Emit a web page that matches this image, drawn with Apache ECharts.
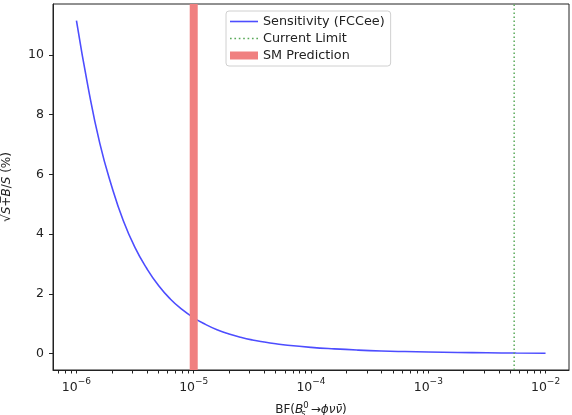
<!DOCTYPE html>
<html>
<head>
<meta charset="utf-8">
<script src="https://cdn.jsdelivr.net/npm/echarts@6/dist/echarts.min.js"></script>
<style>html,body{margin:0;padding:0;background:#fff}#c{width:572px;height:415px}</style>
</head>
<body>
<div id="c"></div>
<script>
// Branching fraction values (x) and sensitivity sqrt(S+B)/S in % (y)
const bf = [1e-6, 1.26e-6, 1.58e-6, 2.0e-6, 2.51e-6, 3.16e-6, 3.98e-6, 5.01e-6, 6.31e-6, 7.94e-6,
            1e-5, 1.26e-5, 1.58e-5, 2.0e-5, 2.51e-5, 3.16e-5, 3.98e-5, 5.01e-5, 6.31e-5,
            1e-4, 1.58e-4, 2.51e-4, 3.98e-4, 6.31e-4, 1e-3, 1.78e-3, 3.16e-3, 5.62e-3, 1e-2];
const sensitivity = [11.15, 8.9, 7.05, 5.6, 4.45, 3.55, 2.85, 2.28, 1.83, 1.48,
                     1.2, 0.98, 0.8, 0.66, 0.55, 0.46, 0.39, 0.33, 0.28,
                     0.21, 0.16, 0.12, 0.09, 0.07, 0.055, 0.04, 0.03, 0.02, 0.015];
const currentLimit = 5.4e-3;
const smPrediction = 1e-5;
const yRange = [-0.547, 11.707];
const xMajorTicks = [1e-6, 1e-5, 1e-4, 1e-3, 1e-2];
const xMinorTicks = [7e-7, 8e-7, 9e-7,
  2e-6,3e-6,4e-6,5e-6,6e-6,7e-6,8e-6,9e-6,
  2e-5,3e-5,4e-5,5e-5,6e-5,7e-5,8e-5,9e-5,
  2e-4,3e-4,4e-4,5e-4,6e-4,7e-4,8e-4,9e-4,
  2e-3,3e-3,4e-3,5e-3,6e-3,7e-3,8e-3,9e-3];
const yTicks = [0, 2, 4, 6, 8, 10];
const seriesNames = ['Sensitivity (FCCee)', 'Current Limit', 'SM Prediction'];

const FONT = 'DejaVu Sans';
const TXT = '#222';
const xMin = Math.pow(10, -6.2), xMax = Math.pow(10, -1.8);

function expLabel(v) {
  const e = Math.round(Math.log10(v));
  return '{b|10}{s|' + (e < 0 ? '\u2212' + (-e) : e) + '}';
}

const chart = echarts.init(document.getElementById('c'), null, {renderer: 'canvas'});
chart.setOption({
  animation: false,
  backgroundColor: '#fff',
  textStyle: {fontFamily: FONT, color: TXT},
  grid: {left: 53, right: 3, top: 4, bottom: 45, containLabel: false, outerBoundsMode: 'none',
         show: true, borderColor: '#222', borderWidth: 1},
  legend: {
    orient: 'vertical', left: 226, top: 11,
    data: [
      {name: seriesNames[0], icon: 'path://M0,0H28V1.6H0Z'},
      {name: seriesNames[1], icon: 'path://M0,0h1.5v1.5h-1.5z M4,0h1.5v1.5h-1.5z M8,0h1.5v1.5h-1.5z M12,0h1.5v1.5h-1.5z M16,0h1.5v1.5h-1.5z M20,0h1.5v1.5h-1.5z M24,0h1.5v1.5h-1.5z'},
      {name: seriesNames[2], icon: 'path://M0,0H28V8H0Z'}
    ],
    itemWidth: 28, itemHeight: 10, itemGap: 4,
    padding: [4, 6, 4, 4],
    borderColor: '#d0d0d0', borderWidth: 1, borderRadius: 3,
    backgroundColor: '#fff',
    textStyle: {fontFamily: FONT, fontSize: 12.8, color: TXT},
    selectedMode: false
  },
  xAxis: {
    type: 'log', logBase: 10, min: xMin, max: xMax, position: 'bottom',
    name: '{r|BF(}{it|B}{sub|s}{sup|0}{it|\u2192\u03d5\u03bd\u03bd\u0304}{r|)}',
    nameLocation: 'middle', nameGap: 31,
    nameTextStyle: {
      fontFamily: FONT, fontSize: 12, color: TXT,
      rich: {
        r: {fontFamily: FONT, fontSize: 12, color: TXT, lineHeight: 17},
        it: {fontFamily: FONT, fontSize: 12, fontStyle: 'italic', color: TXT, lineHeight: 17},
        sub: {fontFamily: FONT, fontSize: 8.5, fontStyle: 'italic', color: TXT, lineHeight: 8, verticalAlign: 'bottom', width: 0.01},
        sup: {fontFamily: FONT, fontSize: 8.5, color: TXT, lineHeight: 8, verticalAlign: 'top', padding: [0, 2, 0, 0]}
      }
    },
    axisLine: {show: true, onZero: false, lineStyle: {color: '#222', width: 1}},
    axisTick: {show: true, inside: false, length: 3.5, customValues: xMajorTicks.concat(xMinorTicks), lineStyle: {color: '#222', width: 1}},
    axisLabel: {
      show: true, margin: 7, customValues: xMajorTicks,
      formatter: expLabel,
      rich: {
        b: {fontFamily: FONT, fontSize: 12.5, color: TXT, lineHeight: 17, verticalAlign: 'bottom'},
        s: {fontFamily: FONT, fontSize: 9, color: TXT, lineHeight: 11, verticalAlign: 'top'}
      }
    },
    splitLine: {show: false}
  },
  yAxis: {
    type: 'value', min: yRange[0], max: yRange[1],
    name: '{r|\u221a}{it|S\u0305}{r|+\u0305}{it|B\u0305}{r|/}{it|S}{r| (%)}',
    nameLocation: 'middle', nameGap: 40, nameRotate: 90,
    nameTextStyle: {
      fontFamily: FONT, fontSize: 12, color: TXT,
      rich: {
        r: {fontFamily: FONT, fontSize: 12, color: TXT},
        it: {fontFamily: FONT, fontSize: 12, fontStyle: 'italic', color: TXT}
      }
    },
    axisLine: {show: true, onZero: false, lineStyle: {color: '#222', width: 1}},
    axisTick: {show: true, inside: false, length: 4, customValues: yTicks, lineStyle: {color: '#222', width: 1}},
    axisLabel: {show: true, margin: 9, customValues: yTicks, fontFamily: FONT, fontSize: 12.5, color: TXT},
    splitLine: {show: false}
  },
  series: [{
    name: seriesNames[0], type: 'line',
    data: bf.map((x, i) => [x, sensitivity[i]]),
    smooth: true, showSymbol: false, symbol: 'none',
    lineStyle: {color: '#4d4dff', width: 1.6},
    itemStyle: {color: '#4d4dff'}
  }, {
    name: seriesNames[1], type: 'line',
    data: [[currentLimit, yRange[0]], [currentLimit, yRange[1]]],
    showSymbol: false, symbol: 'none',
    lineStyle: {color: '#5aaa5a', width: 1.5, type: [1.5, 2.5]},
    itemStyle: {color: '#5aaa5a'}
  }, {
    name: seriesNames[2], type: 'line',
    data: [[smPrediction, yRange[0]], [smPrediction, yRange[1]]],
    showSymbol: false, symbol: 'none',
    lineStyle: {color: '#f08080', width: 8},
    itemStyle: {color: '#f08080'}
  }]
});
</script>
</body>
</html>
